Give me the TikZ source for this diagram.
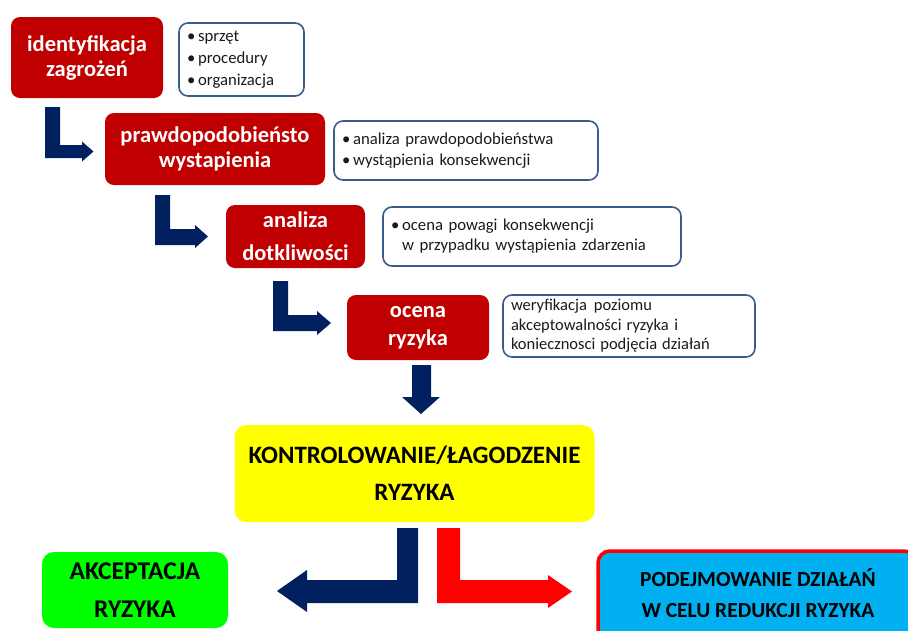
\documentclass[tikz,border=0pt]{standalone}
\usepackage{fontspec}
\setmainfont{Carlito}
\definecolor{boxred}{HTML}{C00000}
\definecolor{navy}{HTML}{002060}
\definecolor{listblue}{RGB}{56,93,138}
\definecolor{ylw}{HTML}{FFFF00}
\definecolor{grn}{HTML}{00FF00}
\definecolor{skyb}{HTML}{00B0F0}
\definecolor{brightred}{HTML}{FF0000}
\definecolor{txt}{HTML}{1A1A1A}
\tikzset{
  redbox/.style={fill=boxred, rounded corners=9pt, align=center, text=white,
    font=\bfseries\fontsize{22.5}{25}\selectfont, inner sep=0pt},
  listbox/.style={draw=listblue, line width=1.6pt, fill=white, rounded corners=9pt,
    align=left, text=txt, inner sep=0pt, inner xsep=8pt,
    font=\fontsize{16.7}{21.5}\selectfont},
  bigbox/.style={rounded corners=12pt, align=center, text=black,
    font=\bfseries\fontsize{25}{37}\selectfont, inner sep=0pt},
  navyarrow/.style={fill=navy, draw=none},
  redarrow/.style={fill=brightred, draw=none}
}
\begin{document}
\begin{tikzpicture}[x=1pt,y=-1pt]
\useasboundingbox (0,0) rectangle (908,630);
% red process boxes
\node[redbox, minimum width=152pt, minimum height=81pt] (b1) at (87,57.5) {identyfikacja\\zagrożeń};
\node[redbox, minimum width=220pt, minimum height=72pt] (b2) at (215,149) {prawdopodobieństo\\wystapienia};
\node[redbox, minimum width=139pt, minimum height=63pt, font=\bfseries\fontsize{22.5}{33}\selectfont] (b3) at (295.5,236.5) {analiza\\dotkliwości};
\node[redbox, minimum width=142pt, minimum height=65pt, font=\bfseries\fontsize{22.5}{28}\selectfont] (b4) at (418,327.5) {\raisebox{-3pt}{\parbox{130pt}{\centering ocena\\ryzyka}}};
% description boxes
\node[listbox, minimum width=125pt, minimum height=73pt, text width=109pt, font=\fontsize{16.7}{22}\selectfont] (l1) at (241.5,59.5)
  {•\,sprzęt\\•\,procedury\\•\,organizacja};
\node[listbox, minimum width=264pt, minimum height=59pt, text width=248pt] (l2) at (466,150.5)
  {•\,analiza prawdopodobieństwa\\•\,wystąpienia konsekwencji};
\node[listbox, minimum width=298pt, minimum height=59pt, text width=282pt, font=\fontsize{16.7}{20}\selectfont] (l3) at (532,236.5)
  {•\,ocena powagi konsekwencji\\\phantom{•\,}w przypadku wystąpienia zdarzenia};
\node[listbox, minimum width=252pt, minimum height=62pt, text width=236pt, font=\fontsize{16.5}{19.5}\selectfont] (l4) at (629,326)
  {weryfikacja\hspace{7pt}poziomu\\akceptowalności\hspace{5pt}ryzyka i\\koniecznosci\hspace{5pt}podjęcia\hspace{5pt}działań};
% bottom boxes
\node[bigbox, fill=ylw, minimum width=360pt, minimum height=97pt] (k) at (414.5,473.5) {KONTROLOWANIE/ŁAGODZENIE\\RYZYKA};
\node[bigbox, fill=grn, minimum width=186pt, minimum height=76pt, font=\bfseries\fontsize{25.5}{38}\selectfont] (a) at (135,590) {AKCEPTACJA\\RYZYKA};
\node[bigbox, fill=skyb, draw=brightred, line width=3.5pt, minimum width=318pt, minimum height=90pt] (p) at (757,596) {};
\node[font=\bfseries\fontsize{21.5}{31}\selectfont, align=center, text=black] (pt) at (758,593.5) {PODEJMOWANIE DZIAŁAŃ\\W CELU REDUKCJI RYZYKA};
% L-shaped arrows
\fill[navyarrow] (45,107) -- (60,107) -- (60,145) -- (82,145) -- (82,141.5) -- (93.5,151.5) -- (82,161.5) -- (82,158) -- (45,158) -- cycle;
\fill[navyarrow] (155,195) -- (170,195) -- (170,229) -- (195,229) -- (195,225) -- (208,236.5) -- (195,248) -- (195,245) -- (155,245) -- cycle;
\fill[navyarrow] (273,281) -- (288,281) -- (288,315) -- (317,315) -- (317,311) -- (331,323) -- (317,335) -- (317,331) -- (273,331) -- cycle;
% down arrow
\fill[navyarrow] (412,365) -- (431,365) -- (431,397) -- (440,397) -- (421,414) -- (402,397) -- (412,397) -- cycle;
% bottom arrows
\fill[navyarrow] (397,528) -- (418,528) -- (418,603) -- (307,603) -- (307,612) -- (277,591) -- (307,570) -- (307,580) -- (397,580) -- cycle;
\fill[redarrow] (437,528) -- (460,528) -- (460,580) -- (548,580) -- (548,575) -- (572,591.5) -- (548,608) -- (548,603) -- (437,603) -- cycle;
\end{tikzpicture}
\end{document}
